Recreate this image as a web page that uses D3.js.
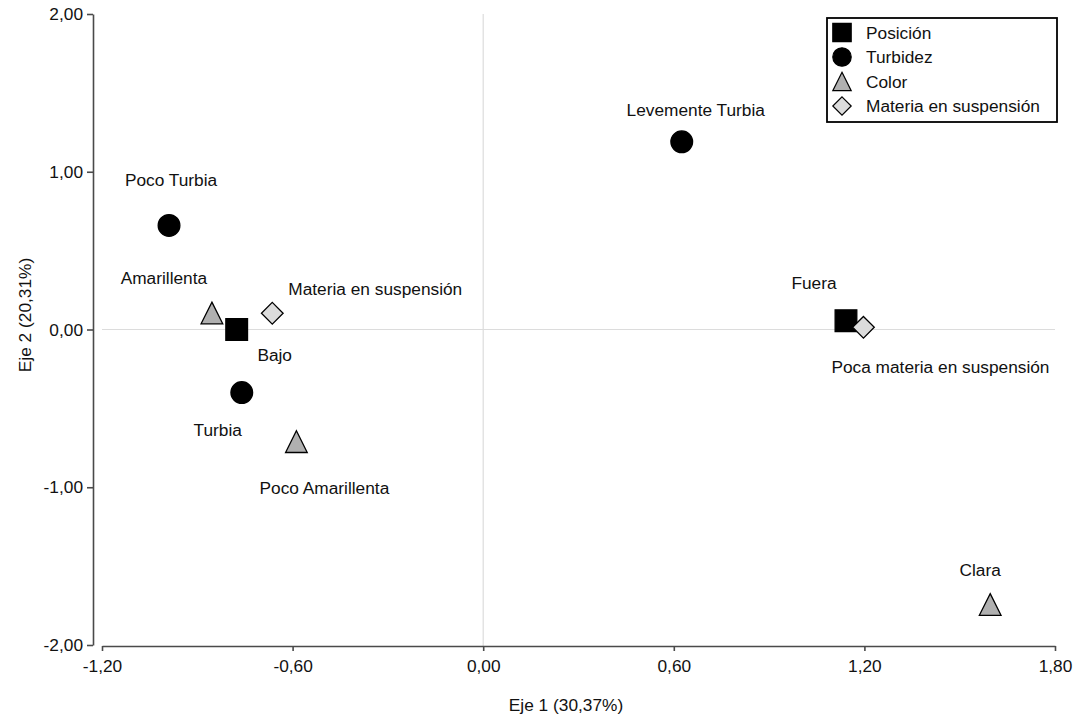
<!DOCTYPE html>
<html>
<head>
<meta charset="utf-8">
<script src="https://cdn.jsdelivr.net/npm/d3@7"></script>
<style>
  body { margin: 0; background: #fff; }
  text { font-family: "Liberation Sans", Arial, sans-serif; fill: #111; }
</style>
</head>
<body>
<div id="chart"></div>
<script>
// data
const labels = ["Bajo", "Fuera", "Poco Turbia", "Turbia", "Levemente Turbia",
                "Amarillenta", "Poco Amarillenta", "Clara",
                "Materia en suspensión", "Poca materia en suspensión"];
const groups = ["Posición", "Posición", "Turbidez", "Turbidez", "Turbidez",
                "Color", "Color", "Color",
                "Materia en suspensión", "Materia en suspensión"];
const dim1 = [-0.776, 1.142, -0.989, -0.760, 0.625, -0.854, -0.588, 1.596, -0.664, 1.197];
const dim2 = [0.000, 0.056, 0.660, -0.400, 1.190, 0.105, -0.711, -1.743, 0.103, 0.014];
const xTicks = [-1.2, -0.6, 0, 0.6, 1.2, 1.8];
const yTicks = [-2, -1, 0, 1, 2];
const legendGroups = ["Posición", "Turbidez", "Color", "Materia en suspensión"];

// label placement relative to the marker (pixels), text-anchor middle, baseline
const labelOffsets = [[38, 31], [-32, -32], [2, -39], [-24, 43], [14, -26],
                      [-48, -29], [28, 52], [-10, -28], [103, -18], [77, 46]];

const width = 1076, height = 717;
const plotLeft = 102, plotRight = 1055, plotTop = 14, plotBottom = 645;
const fontSize = "17.3px";

const svg = d3.select("#chart").append("svg")
    .attr("width", width).attr("height", height);

const x = d3.scaleLinear().domain([-1.2, 1.8]).range([plotLeft, plotRight]);
const y = d3.scaleLinear().domain([-2, 2]).range([plotBottom, plotTop]);
const fmt = v => d3.format(".2f")(v).replace(".", ",").replace("−", "-");

// zero reference lines
svg.append("line")
    .attr("x1", x(0)).attr("x2", x(0)).attr("y1", plotTop).attr("y2", plotBottom + 1)
    .attr("stroke", "#dcdcdc").attr("stroke-width", 1.2);
svg.append("line")
    .attr("x1", plotLeft).attr("x2", plotRight).attr("y1", y(0)).attr("y2", y(0))
    .attr("stroke", "#dcdcdc").attr("stroke-width", 1.2);

// axes (detached, like the original)
const xAxis = svg.append("g")
    .attr("transform", `translate(0, ${plotBottom + 1})`)
    .call(d3.axisBottom(x).tickValues(xTicks).tickFormat(fmt).tickSize(5).tickSizeOuter(0));
const yAxis = svg.append("g")
    .attr("transform", `translate(${plotLeft - 9}, 0)`)
    .call(d3.axisLeft(y).tickValues(yTicks).tickFormat(fmt).tickSize(6).tickSizeOuter(0));
[xAxis, yAxis].forEach(a => {
  a.selectAll("path, line").attr("stroke", "#4a4a4a").attr("stroke-width", 1.6);
  a.selectAll("text").style("font-size", fontSize).attr("fill", "#111")
    .style("font-family", "'Liberation Sans', Arial, sans-serif");
});
xAxis.selectAll("text").attr("dy", 0).attr("y", 26);
yAxis.selectAll("text").attr("x", -10);

// axis titles
svg.append("text").attr("x", 566).attr("y", 711).attr("text-anchor", "middle")
    .style("font-size", fontSize).text("Eje 1 (30,37%)");
svg.append("text").attr("transform", "translate(31, 315) rotate(-90)")
    .attr("text-anchor", "middle").style("font-size", fontSize).text("Eje 2 (20,31%)");

// marker shapes: w = h for triangle and diamond, as in the original
const triangle = {draw(ctx, size) {
  const h = Math.sqrt(size) / 2;
  ctx.moveTo(0, -h); ctx.lineTo(h, h); ctx.lineTo(-h, h); ctx.closePath();
}};
const diamond = {draw(ctx, size) {
  const h = Math.sqrt(size) / 2;
  ctx.moveTo(0, -h); ctx.lineTo(h, 0); ctx.lineTo(0, h); ctx.lineTo(-h, 0); ctx.closePath();
}};
const styles = {
  "Posición": {sym: d3.symbolSquare, size: 470, fill: "#000"},
  "Turbidez": {sym: d3.symbolCircle, size: 370, fill: "#000"},
  "Color": {sym: triangle, size: 470, fill: "#b0b0b0"},
  "Materia en suspensión": {sym: diamond, size: 470, fill: "#dcdcdc"}
};
const symbolPath = (g, scale = 1) => d3.symbol().type(styles[g].sym).size(styles[g].size * scale)();

// points
const idx = d3.range(labels.length);
svg.append("g").selectAll("path")
  .data(idx).join("path")
    .attr("transform", i => `translate(${x(dim1[i])}, ${y(dim2[i])})`)
    .attr("d", i => symbolPath(groups[i]))
    .attr("fill", i => styles[groups[i]].fill)
    .attr("stroke", "#000").attr("stroke-width", 1.3);

// point labels
svg.append("g").selectAll("text")
  .data(idx).join("text")
    .attr("x", i => x(dim1[i]) + labelOffsets[i][0])
    .attr("y", i => y(dim2[i]) + labelOffsets[i][1])
    .attr("text-anchor", "middle")
    .style("font-size", fontSize)
    .text(i => labels[i]);

// legend
const lg = svg.append("g").attr("transform", "translate(827, 18)");
lg.append("rect").attr("width", 230).attr("height", 104)
    .attr("fill", "#fff").attr("stroke", "#000").attr("stroke-width", 1.8);
legendGroups.forEach((g, k) => {
  const cy = 14.5 + k * 24.5;
  lg.append("path")
    .attr("transform", `translate(15, ${cy})`)
    .attr("d", symbolPath(g, 0.72))
    .attr("fill", styles[g].fill)
    .attr("stroke", "#000").attr("stroke-width", 1.2);
  lg.append("text").attr("x", 39).attr("y", cy + 6)
    .style("font-size", fontSize).text(g);
});
</script>
</body>
</html>
